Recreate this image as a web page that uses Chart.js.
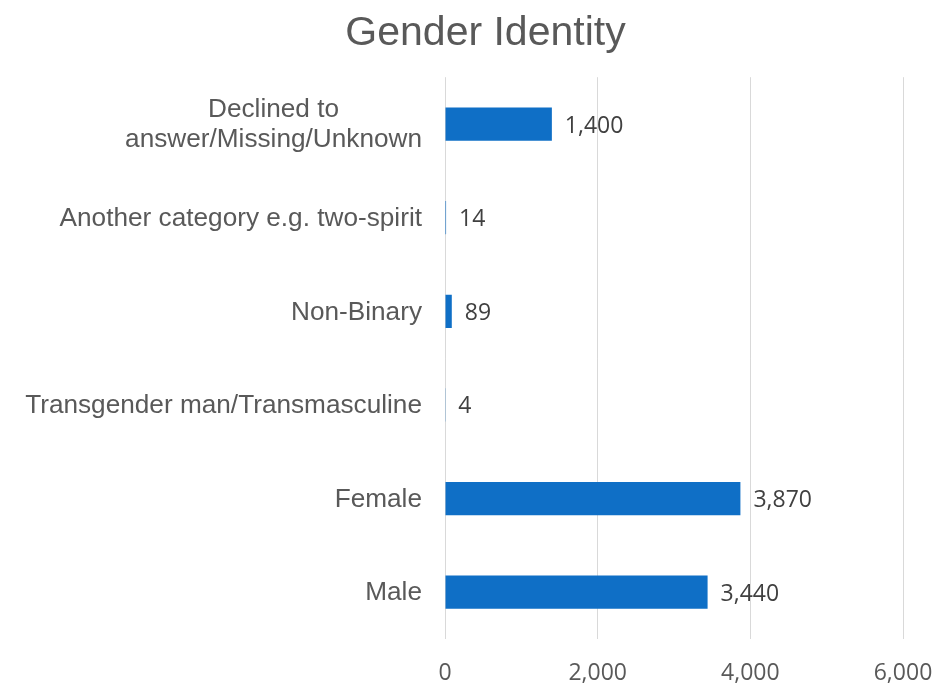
<!DOCTYPE html>
<html>
<head>
<meta charset="utf-8">
<script src="https://cdn.jsdelivr.net/npm/chart.js@4.4.0/dist/chart.umd.min.js"></script>
<style>
html,body{margin:0;padding:0;background:#fff;}
#wrap{width:948px;height:687px;}
</style>
</head>
<body>
<div id="wrap"><canvas id="c" width="948" height="687"></canvas></div>
<script>
const categories = [
  ["Declined to", "answer/Missing/Unknown"],
  "Another category e.g. two-spirit",
  "Non-Binary",
  "Transgender man/Transmasculine",
  "Female",
  "Male"
];
const values = [1400, 14, 89, 4, 3870, 3440];
const xTicks = [0, 2000, 4000, 6000];

// value labels at bar ends
const dataLabels = {
  id: 'dataLabels',
  afterDatasetsDraw(chart) {
    const ctx = chart.ctx;
    const meta = chart.getDatasetMeta(0);
    ctx.save();
    ctx.font = '23px "Open Sans"';
    ctx.fillStyle = '#404040';
    ctx.textAlign = 'left';
    ctx.textBaseline = 'middle';
    meta.data.forEach((el, i) => {
      ctx.fillText(values[i].toLocaleString('en-US'), el.x + 13, el.y + 2);
    });
    ctx.restore();
  }
};

// category labels: block right-aligned, lines centred within block
const catLabels = {
  id: 'catLabels',
  afterDraw(chart) {
    const ctx = chart.ctx;
    const ys = chart.scales.y;
    const right = ys.right - 23;
    const lh = 30;
    ctx.save();
    ctx.font = '26.2px "Liberation Sans", Arial, sans-serif';
    ctx.fillStyle = '#595959';
    ctx.textBaseline = 'middle';
    ctx.textAlign = 'center';
    categories.forEach((lab, i) => {
      const lines = Array.isArray(lab) ? lab : [lab];
      const w = Math.max(...lines.map(l => ctx.measureText(l).width));
      const cx = right - w / 2;
      const y0 = ys.getPixelForValue(i) + 1 - (lines.length - 1) * lh / 2;
      lines.forEach((l, k) => ctx.fillText(l, cx, y0 + k * lh));
    });
    ctx.restore();
  }
};

// centre the title the way the reference does
const titleShift = {
  id: 'titleShift',
  afterLayout(chart) {
    const t = chart.titleBlock;
    if (t) { t.left = 23; t.right = 948; }
  }
};

new Chart(document.getElementById('c'), {
  type: 'bar',
  data: {
    labels: categories,
    datasets: [{
      data: values,
      backgroundColor: '#0F6FC6',
      borderWidth: 0,
      categoryPercentage: 1,
      barPercentage: 0.355
    }]
  },
  plugins: [dataLabels, catLabels, titleShift],
  options: {
    indexAxis: 'y',
    responsive: false,
    animation: false,
    devicePixelRatio: 1,
    layout: { padding: { left: 0, right: 45, top: 0, bottom: 0 } },
    plugins: {
      legend: { display: false },
      tooltip: { enabled: false },
      title: {
        display: true,
        text: 'Gender Identity',
        color: '#595959',
        font: { family: '"Liberation Sans", Arial, sans-serif', size: 41, weight: 'normal' },
        padding: { top: 9, bottom: 19 }
      }
    },
    scales: {
      x: {
        min: 0,
        max: 6000,
        afterBuildTicks(scale) { scale.ticks = xTicks.map(v => ({ value: v })); },
        afterFit(scale) {
          scale.height = 48;
          scale.paddingLeft = 0; scale.paddingRight = 0;
          scale.paddingTop = 0; scale.paddingBottom = 0;
        },
        grid: { color: '#D9D9D9', lineWidth: 1, drawTicks: false },
        border: { display: false },
        ticks: {
          padding: 21,
          color: '#595959',
          font: { family: '"Open Sans", sans-serif', size: 23 },
          callback: v => Number(v).toLocaleString('en-US')
        }
      },
      y: {
        afterFit(scale) {
          scale.width = 445;
          scale.paddingLeft = 0; scale.paddingRight = 0;
          scale.paddingTop = 0; scale.paddingBottom = 0;
        },
        grid: { display: false, drawTicks: false },
        border: { display: false },
        ticks: { display: false }
      }
    }
  }
});
</script>
</body>
</html>
